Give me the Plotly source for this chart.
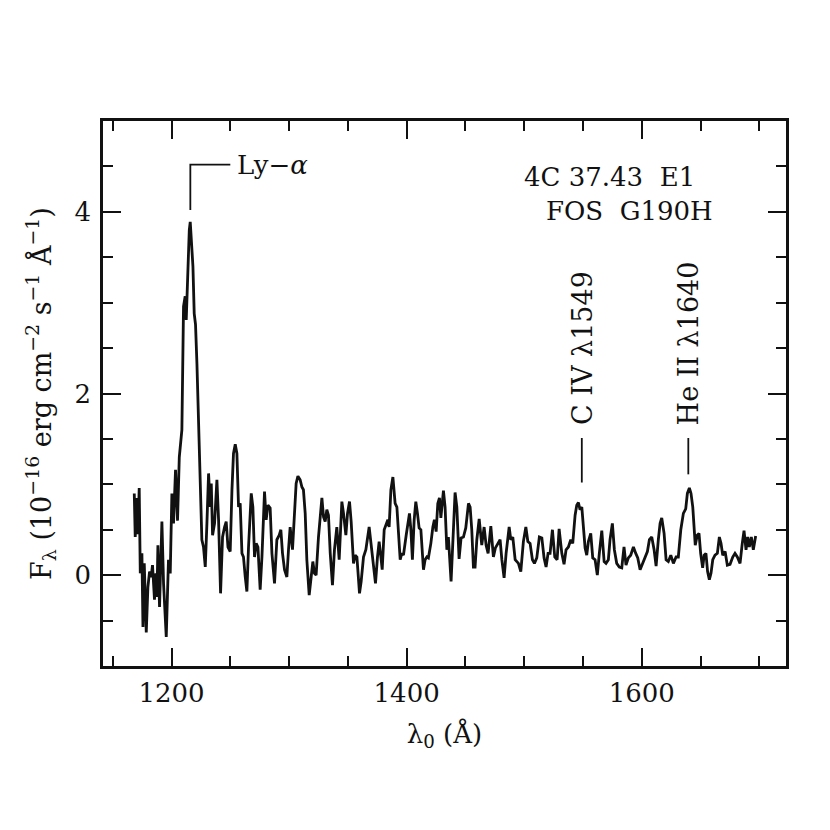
import plotly.graph_objects as go

# ---------------- data ----------------
WAVELENGTH = [
    1168.3, 1169.1, 1170.6, 1171.4, 1172.5, 1173.4, 1174.8, 1175.7, 1176.8, 1178.5,
    1179.9, 1181.3, 1182.7, 1183.8, 1185.5, 1186.7, 1187.6, 1188.4, 1189.8, 1191.8,
    1193.2, 1195.5, 1197.4, 1198.9, 1200.3, 1201.7, 1203.4, 1205.1, 1206.6, 1208.8,
    1210.2, 1211.6, 1212.5, 1213.9, 1215.1, 1215.9, 1216.8, 1218.2, 1219.3, 1220.4,
    1221.6, 1223.0, 1224.0, 1225.8, 1227.2, 1228.7, 1230.1, 1231.5, 1232.9, 1233.8,
    1234.9, 1236.6, 1238.6, 1240.0, 1241.7, 1243.4, 1245.1, 1246.5, 1248.0, 1249.9,
    1251.4, 1252.7, 1254.2, 1255.6, 1257.0, 1258.4, 1259.9, 1261.2, 1262.7, 1264.1,
    1265.5, 1267.8, 1269.2, 1270.6, 1272.0, 1273.5, 1275.4, 1276.9, 1279.1, 1280.5,
    1282.0, 1283.9, 1285.4, 1287.6, 1289.6, 1291.6, 1293.0, 1294.4, 1296.1, 1298.1,
    1299.5, 1300.9, 1302.9, 1304.6, 1306.0, 1307.5, 1309.4, 1310.9, 1312.2, 1313.7,
    1315.1, 1317.1, 1318.8, 1320.2, 1321.6, 1323.0, 1325.0, 1327.9, 1329.3, 1330.7,
    1332.1, 1333.5, 1335.0, 1336.9, 1338.6, 1340.6, 1342.6, 1344.9, 1346.3, 1348.3,
    1349.7, 1351.4, 1352.8, 1354.8, 1356.2, 1357.7, 1359.9, 1361.3, 1363.3, 1365.3,
    1368.1, 1369.8, 1371.8, 1373.5, 1375.2, 1376.6, 1378.1, 1379.2, 1380.9, 1382.6,
    1384.0, 1385.1, 1386.6, 1388.3, 1390.2, 1391.7, 1393.0, 1394.5, 1395.9, 1397.3,
    1399.6, 1401.0, 1402.4, 1403.6, 1404.9, 1406.4, 1407.8, 1409.2, 1410.6, 1412.1,
    1414.3, 1415.7, 1417.2, 1418.5, 1420.6, 1422.3, 1423.6, 1425.1, 1426.5, 1427.9,
    1429.1, 1431.3, 1432.7, 1434.2, 1435.5, 1437.8, 1439.3, 1441.2, 1442.7, 1444.6,
    1446.3, 1448.3, 1450.3, 1452.6, 1454.0, 1455.4, 1456.8, 1458.2, 1459.7, 1461.7,
    1463.9, 1465.9, 1467.6, 1469.3, 1471.6, 1473.8, 1475.5, 1477.6, 1479.5, 1481.0,
    1482.9, 1484.6, 1487.2, 1488.6, 1490.3, 1492.3, 1495.1, 1497.1, 1499.3, 1501.4,
    1503.1, 1505.0, 1507.0, 1508.7, 1510.7, 1512.9, 1515.0, 1516.9, 1518.6, 1520.3,
    1522.0, 1524.0, 1526.0, 1528.0, 1529.7, 1532.0, 1533.9, 1535.6, 1537.6, 1539.6,
    1541.3, 1543.3, 1544.7, 1546.1, 1547.5, 1549.0, 1550.3, 1551.8, 1553.2, 1554.6,
    1556.6, 1558.3, 1560.3, 1562.2, 1563.9, 1566.0, 1568.0, 1569.6, 1571.6, 1573.0,
    1575.0, 1576.7, 1578.7, 1580.9, 1583.0, 1584.9, 1586.6, 1588.6, 1590.6, 1592.9,
    1594.9, 1596.6, 1598.6, 1600.5, 1602.8, 1604.8, 1606.5, 1608.5, 1610.5, 1612.2,
    1614.1, 1615.6, 1617.0, 1619.0, 1620.7, 1622.6, 1624.7, 1626.9, 1629.2, 1631.1,
    1633.2, 1635.4, 1637.4, 1638.8, 1640.5, 1641.9, 1643.4, 1644.4, 1645.5, 1647.2,
    1648.7, 1650.1, 1651.8, 1653.1, 1654.6, 1656.0, 1657.5, 1658.9, 1660.4, 1662.3,
    1664.3, 1666.0, 1667.4, 1668.9, 1670.9, 1672.8, 1675.1, 1677.4, 1679.3, 1681.3,
    1683.6, 1685.5, 1687.0, 1688.7, 1690.1, 1691.5, 1693.2, 1694.9, 1696.9,
]

FLUX = [
    0.90, 0.42, 0.85, 0.45, 0.96, 0.02, 0.24, -0.57, 0.13, -0.63,
    -0.13, 0.04, -0.02, 0.11, -0.27, 0.02, -0.24, 0.33, -0.35, 0.59,
    -0.09, -0.68, 0.17, 0.02, 0.90, 0.57, 1.16, 0.60, 1.30, 1.60,
    2.96, 3.07, 2.81, 3.36, 3.80, 3.89, 3.73, 3.40, 2.88, 2.76,
    2.33, 1.60, 1.10, 0.39, 0.31, 0.09, 0.57, 1.12, 0.75, 1.01,
    0.44, 0.57, 1.05, 0.61, -0.20, 0.42, 0.53, 0.59, 0.31, 0.26,
    0.94, 1.34, 1.44, 1.34, 0.75, 0.79, 0.24, 0.20, -0.02, -0.18,
    0.31, 0.90, 0.75, 0.20, 0.35, 0.31, -0.16, 0.20, 0.92, 0.61,
    0.77, 0.74, 0.24, -0.09, 0.39, 0.44, 0.50, 0.24, 0.06, -0.02,
    0.28, 0.53, 0.28, 0.75, 1.01, 1.09, 1.05, 0.97, 0.94, 0.68,
    0.17, -0.22, -0.05, 0.15, 0.02, 0.00, 0.42, 0.85, 0.64, 0.59,
    0.72, 0.66, 0.24, -0.11, 0.28, 0.53, 0.17, 0.81, 0.68, 0.44,
    0.68, 0.81, 0.59, 0.13, 0.22, 0.20, -0.20, -0.07, 0.20, 0.28,
    0.53, 0.31, 0.08, -0.09, 0.20, 0.37, 0.20, 0.06, 0.50, 0.57,
    0.61, 0.53, 0.94, 1.08, 0.79, 0.75, 0.46, 0.17, 0.24, 0.22,
    0.44, 0.59, 0.68, 0.50, 0.17, 0.61, 0.81, 0.68, 0.52, 0.50,
    0.06, 0.17, 0.20, 0.19, 0.35, 0.53, 0.61, 0.48, 0.79, 0.85,
    0.63, 0.93, 0.75, 0.28, 0.42, -0.07, 0.31, 0.91, 0.75, 0.18,
    0.41, 0.42, 0.52, 0.79, 0.75, 0.50, 0.09, 0.09, 0.39, 0.62,
    0.33, 0.53, 0.33, 0.24, 0.54, 0.20, 0.30, 0.35, 0.39, 0.17,
    -0.03, 0.24, 0.53, 0.39, 0.42, 0.17, 0.13, 0.04, 0.37, 0.53,
    0.37, 0.35, 0.17, 0.13, 0.19, 0.42, 0.41, 0.19, 0.09, 0.24,
    0.24, 0.50, 0.20, 0.17, 0.51, 0.24, 0.12, 0.28, 0.31, 0.39,
    0.35, 0.66, 0.77, 0.80, 0.72, 0.75, 0.53, 0.30, 0.22, 0.37,
    0.46, 0.19, 0.17, 0.00, 0.24, 0.49, 0.15, 0.13, 0.17, 0.39,
    0.57, 0.28, 0.13, 0.09, 0.08, 0.31, 0.11, 0.19, 0.22, 0.31,
    0.24, 0.19, 0.06, 0.12, 0.19, 0.26, 0.39, 0.42, 0.28, 0.10,
    0.39, 0.57, 0.63, 0.46, 0.17, 0.15, 0.22, 0.13, 0.20, 0.20,
    0.50, 0.68, 0.73, 0.90, 0.96, 0.90, 0.75, 0.53, 0.33, 0.44,
    0.46, 0.24, 0.08, 0.22, 0.24, 0.04, -0.05, 0.02, 0.17, 0.22,
    0.24, 0.42, 0.35, 0.22, 0.26, 0.11, 0.12, 0.20, 0.24, 0.20,
    0.13, 0.35, 0.49, 0.28, 0.42, 0.31, 0.42, 0.28, 0.43,
]

X_RANGE = [1141.7, 1722.7]
Y_RANGE = [-1.0, 5.0]
X_TICKS = [1200, 1400, 1600]
Y_TICKS = [0, 2, 4]

# emission-line identifications
LYA_WAVE = 1216.0
LYA_LABEL = "Ly\u2212<i>\u03b1</i>"
LINE_WAVES = [1549.0, 1639.6]
LINE_LABELS = ["C IV \u03bb1549", "He II \u03bb1640"]
LINE_TICK_BOTTOM = [1.02, 1.11]

OBJECT_LABELS = ["4C 37.43  E1", "FOS  G190H"]

FONT = "DejaVu Serif"
BLACK = "#111111"

fig = go.Figure()

fig.add_trace(go.Scatter(
    x=WAVELENGTH, y=FLUX, mode="lines",
    line=dict(color=BLACK, width=2.8),
    hoverinfo="skip", showlegend=False,
))

# Ly-alpha marker (bent line)
fig.add_trace(go.Scatter(
    x=[LYA_WAVE, LYA_WAVE, LYA_WAVE + 34],
    y=[4.02, 4.52, 4.52], mode="lines",
    line=dict(color=BLACK, width=1.8),
    hoverinfo="skip", showlegend=False,
))
fig.add_annotation(x=LYA_WAVE + 38, y=4.52, text=LYA_LABEL, showarrow=False,
                   xanchor="left", yanchor="middle",
                   font=dict(family=FONT, size=26, color=BLACK))

# C IV and He II markers
for w, lab, yb in zip(LINE_WAVES, LINE_LABELS, LINE_TICK_BOTTOM):
    fig.add_trace(go.Scatter(
        x=[w, w], y=[yb, 1.51], mode="lines",
        line=dict(color=BLACK, width=1.8),
        hoverinfo="skip", showlegend=False,
    ))
    fig.add_annotation(x=w, y=1.63, text=lab, showarrow=False, textangle=-90,
                       xanchor="center", yanchor="bottom",
                       font=dict(family=FONT, size=27, color=BLACK))

# object / instrument labels
fig.add_annotation(x=1572.2, y=4.38, text=OBJECT_LABELS[0], showarrow=False,
                   xanchor="center", yanchor="middle",
                   font=dict(family=FONT, size=26, color=BLACK))
fig.add_annotation(x=1589.6, y=4.01, text=OBJECT_LABELS[1], showarrow=False,
                   xanchor="center", yanchor="middle",
                   font=dict(family=FONT, size=26, color=BLACK))

axis_common = dict(
    showline=True, linecolor=BLACK, linewidth=2.5, mirror="ticks",
    ticks="inside", ticklen=18, tickwidth=2, tickcolor=BLACK,
    showgrid=False, zeroline=False,
    tickfont=dict(family=FONT, size=26, color=BLACK),
)

fig.update_xaxes(
    range=X_RANGE, tickmode="array", tickvals=X_TICKS,
    ticktext=[str(v) for v in X_TICKS],
    minor=dict(ticks="inside", ticklen=10, tickwidth=2, tickcolor=BLACK, dtick=50,
               tick0=1150, showgrid=False),
    ticklabelstandoff=2,
    title=dict(text="\u03bb<sub>0</sub> (\u00c5)", standoff=18,
               font=dict(family=FONT, size=26, color=BLACK)),
    **axis_common,
)
fig.update_yaxes(
    range=Y_RANGE, tickmode="array", tickvals=Y_TICKS,
    ticktext=[str(v) for v in Y_TICKS],
    minor=dict(ticks="inside", ticklen=10, tickwidth=2, tickcolor=BLACK, dtick=0.5,
               tick0=0, showgrid=False),
    ticklabelstandoff=4,
    title=dict(text="F<sub>\u03bb</sub> (10<sup>\u221216</sup> erg cm<sup>\u22122</sup> "
                    "s<sup>\u22121</sup> \u00c5<sup>\u22121</sup>)",
               standoff=16, font=dict(family=FONT, size=27, color=BLACK)),
    **axis_common,
)

fig.update_layout(
    width=830, height=830,
    margin=dict(l=95, r=52, t=113, b=172),
    paper_bgcolor="white", plot_bgcolor="white",
    showlegend=False,
)

fig.write_html("out.html")
